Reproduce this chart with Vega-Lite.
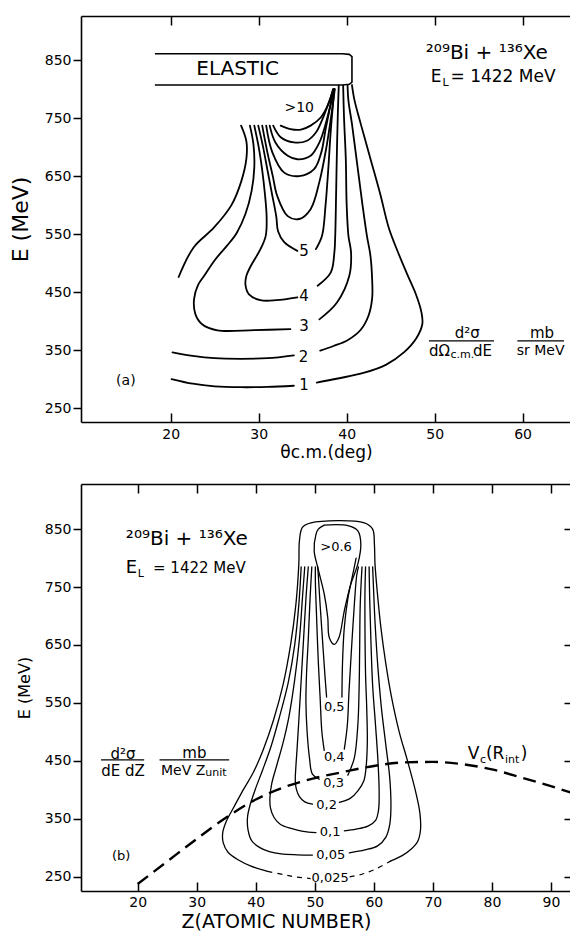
{
"$schema":"https://vega.github.io/schema/vega-lite/v6.json",
"padding":{"left":9,"top":15,"right":0,"bottom":0},
"bounds":"flush",
"spacing":62,
"config":{"view":{"stroke":null},"font":"DejaVu Sans","text":{"font":"DejaVu Sans","color":"black"},"axis":{"labelFont":"DejaVu Sans","titleFont":"DejaVu Sans","labelColor":"black","titleColor":"black","domainColor":"black","tickColor":"black","titleFontWeight":"normal","grid":false}},
"datasets":{
"aL":[
{"c":"1a","i":0,"x":20.1,"E":300},{"c":"1a","i":1,"x":22.5,"E":292},{"c":"1a","i":2,"x":25,"E":287.5},{"c":"1a","i":3,"x":28,"E":286},{"c":"1a","i":4,"x":31,"E":286.5},{"c":"1a","i":5,"x":34,"E":288.5},
{"c":"1b","i":0,"x":36.6,"E":294},{"c":"1b","i":1,"x":39,"E":301},{"c":"1b","i":2,"x":42,"E":311},{"c":"1b","i":3,"x":44.5,"E":325},{"c":"1b","i":4,"x":46.5,"E":346},{"c":"1b","i":5,"x":47.9,"E":370},{"c":"1b","i":6,"x":48.6,"E":395},{"c":"1b","i":7,"x":48.5,"E":415},{"c":"1b","i":8,"x":47.9,"E":445},{"c":"1b","i":9,"x":46.9,"E":480},{"c":"1b","i":10,"x":45.8,"E":520},{"c":"1b","i":11,"x":44.8,"E":560},{"c":"1b","i":12,"x":43.8,"E":620},{"c":"1b","i":13,"x":42.7,"E":680},{"c":"1b","i":14,"x":41.6,"E":740},{"c":"1b","i":15,"x":40.9,"E":780},{"c":"1b","i":16,"x":40.6,"E":807},
{"c":"2a","i":0,"x":20.2,"E":346},{"c":"2a","i":1,"x":22.5,"E":340},{"c":"2a","i":2,"x":25,"E":336},{"c":"2a","i":3,"x":28,"E":335},{"c":"2a","i":4,"x":31,"E":336},{"c":"2a","i":5,"x":34,"E":341},
{"c":"2b","i":0,"x":37,"E":349},{"c":"2b","i":1,"x":38.5,"E":357},{"c":"2b","i":2,"x":40.1,"E":367},{"c":"2b","i":3,"x":41.6,"E":385},{"c":"2b","i":4,"x":42.5,"E":410},{"c":"2b","i":5,"x":42.9,"E":440},{"c":"2b","i":6,"x":42.9,"E":470},{"c":"2b","i":7,"x":42.7,"E":513},{"c":"2b","i":8,"x":42.3,"E":547},{"c":"2b","i":9,"x":41.8,"E":600},{"c":"2b","i":10,"x":41.2,"E":670},{"c":"2b","i":11,"x":40.6,"E":740},{"c":"2b","i":12,"x":40.2,"E":780},{"c":"2b","i":13,"x":40.1,"E":807},
{"c":"3a","i":0,"x":33.6,"E":386},{"c":"3a","i":1,"x":29.5,"E":384.5},{"c":"3a","i":2,"x":25.3,"E":384},{"c":"3a","i":3,"x":23.6,"E":394},{"c":"3a","i":4,"x":22.8,"E":412},{"c":"3a","i":5,"x":22.65,"E":438},{"c":"3a","i":6,"x":23.1,"E":462},{"c":"3a","i":7,"x":23.8,"E":478},{"c":"3a","i":8,"x":25.0,"E":505},{"c":"3a","i":9,"x":26.4,"E":530},{"c":"3a","i":10,"x":27.5,"E":552},{"c":"3a","i":11,"x":28.5,"E":585},{"c":"3a","i":12,"x":29.2,"E":625},{"c":"3a","i":13,"x":29.5,"E":665},{"c":"3a","i":14,"x":29.4,"E":705},{"c":"3a","i":15,"x":29.0,"E":737},
{"c":"3b","i":0,"x":36.9,"E":403},{"c":"3b","i":1,"x":38.9,"E":432},{"c":"3b","i":2,"x":40.3,"E":478},{"c":"3b","i":3,"x":40.5,"E":518},{"c":"3b","i":4,"x":40.2,"E":547},{"c":"3b","i":5,"x":40.0,"E":600},{"c":"3b","i":6,"x":39.9,"E":680},{"c":"3b","i":7,"x":39.7,"E":750},{"c":"3b","i":8,"x":39.6,"E":806},
{"c":"4a","i":0,"x":34.4,"E":441},{"c":"4a","i":1,"x":32,"E":436},{"c":"4a","i":2,"x":30.2,"E":436},{"c":"4a","i":3,"x":28.9,"E":446},{"c":"4a","i":4,"x":28.5,"E":462},{"c":"4a","i":5,"x":28.6,"E":478},{"c":"4a","i":6,"x":29.1,"E":495},{"c":"4a","i":7,"x":30.2,"E":524},{"c":"4a","i":8,"x":30.8,"E":547},{"c":"4a","i":9,"x":30.9,"E":580},{"c":"4a","i":10,"x":30.7,"E":620},{"c":"4a","i":11,"x":30.4,"E":660},{"c":"4a","i":12,"x":30.0,"E":700},{"c":"4a","i":13,"x":29.5,"E":737},
{"c":"4b","i":0,"x":36.7,"E":461},{"c":"4b","i":1,"x":38.2,"E":484},{"c":"4b","i":2,"x":38.6,"E":518},{"c":"4b","i":3,"x":38.7,"E":547},{"c":"4b","i":4,"x":38.8,"E":620},{"c":"4b","i":5,"x":38.9,"E":700},{"c":"4b","i":6,"x":39.0,"E":760},{"c":"4b","i":7,"x":39.1,"E":806},
{"c":"5a","i":0,"x":34.4,"E":521},{"c":"5a","i":1,"x":32.9,"E":536},{"c":"5a","i":2,"x":32.2,"E":555},{"c":"5a","i":3,"x":32.0,"E":580},{"c":"5a","i":4,"x":31.5,"E":620},{"c":"5a","i":5,"x":31.0,"E":660},{"c":"5a","i":6,"x":30.5,"E":700},{"c":"5a","i":7,"x":29.95,"E":737},
{"c":"5b","i":0,"x":36.5,"E":524},{"c":"5b","i":1,"x":37.2,"E":547},{"c":"5b","i":2,"x":37.6,"E":600},{"c":"5b","i":3,"x":37.9,"E":660},{"c":"5b","i":4,"x":38.2,"E":730},{"c":"5b","i":5,"x":38.6,"E":800},
{"c":"U1","i":0,"x":30.4,"E":737},{"c":"U1","i":1,"x":31.0,"E":690},{"c":"U1","i":2,"x":31.6,"E":650},{"c":"U1","i":3,"x":32.1,"E":616},{"c":"U1","i":4,"x":33.3,"E":581},{"c":"U1","i":5,"x":34.6,"E":576},{"c":"U1","i":6,"x":35.9,"E":593},{"c":"U1","i":7,"x":36.9,"E":640},{"c":"U1","i":8,"x":37.7,"E":700},{"c":"U1","i":9,"x":38.3,"E":760},{"c":"U1","i":10,"x":38.65,"E":800},
{"c":"U2","i":0,"x":30.85,"E":737},{"c":"U2","i":1,"x":31.55,"E":691},{"c":"U2","i":2,"x":32.9,"E":656},{"c":"U2","i":3,"x":34.6,"E":650},{"c":"U2","i":4,"x":36.3,"E":662},{"c":"U2","i":5,"x":37.1,"E":690},{"c":"U2","i":6,"x":37.6,"E":730},{"c":"U2","i":7,"x":38.2,"E":775},{"c":"U2","i":8,"x":38.6,"E":800},
{"c":"U3","i":0,"x":31.25,"E":737},{"c":"U3","i":1,"x":31.9,"E":708},{"c":"U3","i":2,"x":33.3,"E":685},{"c":"U3","i":3,"x":34.4,"E":679},{"c":"U3","i":4,"x":35.9,"E":685},{"c":"U3","i":5,"x":36.9,"E":708},{"c":"U3","i":6,"x":37.7,"E":745},{"c":"U3","i":7,"x":38.55,"E":800},
{"c":"U4","i":0,"x":31.65,"E":737},{"c":"U4","i":1,"x":32.5,"E":717},{"c":"U4","i":2,"x":34.0,"E":708},{"c":"U4","i":3,"x":35.5,"E":711},{"c":"U4","i":4,"x":36.5,"E":725},{"c":"U4","i":5,"x":37.3,"E":750},{"c":"U4","i":6,"x":38.5,"E":800},
{"c":"U5","i":0,"x":32.5,"E":737},{"c":"U5","i":1,"x":33.6,"E":731},{"c":"U5","i":2,"x":34.8,"E":730},{"c":"U5","i":3,"x":35.9,"E":737},{"c":"U5","i":4,"x":37.05,"E":751},{"c":"U5","i":5,"x":38.0,"E":777},{"c":"U5","i":6,"x":38.45,"E":800},
{"c":"L1","i":0,"x":20.9,"E":476},{"c":"L1","i":1,"x":22.6,"E":527},{"c":"L1","i":2,"x":24.9,"E":561},{"c":"L1","i":3,"x":26.9,"E":600},{"c":"L1","i":4,"x":28.0,"E":640},{"c":"L1","i":5,"x":28.6,"E":680},{"c":"L1","i":6,"x":28.6,"E":710},{"c":"L1","i":7,"x":28.0,"E":737}
],
"aBox":[
{"i":0,"x":18.2,"E":861},{"i":1,"x":39.5,"E":861},{"i":2,"x":40.3,"E":859.8},{"i":3,"x":40.6,"E":856},{"i":4,"x":40.6,"E":812},{"i":5,"x":40.3,"E":808.2},{"i":6,"x":39.5,"E":807},{"i":7,"x":18.2,"E":807}
],
"aR":[{"x":49.35,"x2":56.75,"E":366},{"x":59.4,"x2":64.7,"E":366}],
"aTc15":[{"x":35.15,"E":289,"t":"1"},{"x":35.1,"E":338,"t":"2"},{"x":35.15,"E":392,"t":"3"},{"x":35.15,"E":444,"t":"4"},{"x":35.15,"E":521,"t":"5"},{"x":53.7,"E":380,"t":"d²σ"},{"x":62.2,"E":380,"t":"mb"}],
"aTc14":[{"x":34.6,"E":768,"t":">10"},{"x":14.9,"E":297,"t":"(a)"},{"x":62.05,"E":349,"t":"sr MeV"}],
"aTc20":[{"x":27.6,"E":834,"t":"ELASTIC"}],
"aTl20":[{"x":49.0,"E":863,"t":"²⁰⁹Bi + ¹³⁶Xe"}],
"aTl17":[{"x":49.55,"E":820,"t":"E"},{"x":51.8,"E":820,"t":"= 1422 MeV"}],
"aTl15":[{"x":49.35,"E":349,"t":"dΩ"},{"x":54.35,"E":349,"t":"dE"}],
"aTl11":[{"x":50.9,"E":811,"t":"L"},{"x":51.8,"E":342,"t":"c.m."}],
"bL":[
{"c":"o","i":0,"x":42,"E":259},{"c":"o","i":1,"x":39.2,"E":268},{"c":"o","i":2,"x":37,"E":279},{"c":"o","i":3,"x":35.3,"E":292},{"c":"o","i":4,"x":34.5,"E":308},{"c":"o","i":5,"x":34.4,"E":325},{"c":"o","i":6,"x":35.0,"E":345},{"c":"o","i":7,"x":36.3,"E":370},{"c":"o","i":8,"x":37.9,"E":400},{"c":"o","i":9,"x":39.6,"E":430},{"c":"o","i":10,"x":41.3,"E":470},{"c":"o","i":11,"x":43.0,"E":520},{"c":"o","i":12,"x":44.6,"E":580},{"c":"o","i":13,"x":45.9,"E":650},{"c":"o","i":14,"x":46.8,"E":720},{"c":"o","i":15,"x":47.3,"E":790},{"c":"o","i":16,"x":47.4,"E":830},{"c":"o","i":17,"x":47.9,"E":853},{"c":"o","i":18,"x":49.35,"E":861},{"c":"o","i":19,"x":58.4,"E":861},{"c":"o","i":20,"x":59.8,"E":850},{"c":"o","i":21,"x":60.1,"E":824},{"c":"o","i":22,"x":60.2,"E":790},{"c":"o","i":23,"x":60.6,"E":740},{"c":"o","i":24,"x":61.2,"E":680},{"c":"o","i":25,"x":62.0,"E":620},{"c":"o","i":26,"x":63.0,"E":560},{"c":"o","i":27,"x":64.3,"E":500},{"c":"o","i":28,"x":65.7,"E":450},{"c":"o","i":29,"x":67.0,"E":400},{"c":"o","i":30,"x":67.8,"E":360},{"c":"o","i":31,"x":67.9,"E":330},{"c":"o","i":32,"x":67.4,"E":310},{"c":"o","i":33,"x":66.3,"E":297},{"c":"o","i":34,"x":64.8,"E":286},{"c":"o","i":35,"x":62.9,"E":277},
{"c":"05a","i":0,"x":49.6,"E":287},{"c":"05a","i":1,"x":47,"E":287.5},{"c":"05a","i":2,"x":44.3,"E":289},{"c":"05a","i":3,"x":42.3,"E":293},{"c":"05a","i":4,"x":40.7,"E":300},{"c":"05a","i":5,"x":39.3,"E":312},{"c":"05a","i":6,"x":38.7,"E":330},{"c":"05a","i":7,"x":38.6,"E":352},{"c":"05a","i":8,"x":39.0,"E":372},{"c":"05a","i":9,"x":39.9,"E":400},{"c":"05a","i":10,"x":41.2,"E":435},{"c":"05a","i":11,"x":42.6,"E":475},{"c":"05a","i":12,"x":44.0,"E":525},{"c":"05a","i":13,"x":45.5,"E":585},{"c":"05a","i":14,"x":46.6,"E":650},{"c":"05a","i":15,"x":47.3,"E":720},{"c":"05a","i":16,"x":47.7,"E":785},
{"c":"05b","i":0,"x":55.85,"E":291},{"c":"05b","i":1,"x":58.5,"E":296},{"c":"05b","i":2,"x":60.65,"E":303},{"c":"05b","i":3,"x":62.05,"E":318},{"c":"05b","i":4,"x":62.7,"E":340},{"c":"05b","i":5,"x":62.9,"E":370},{"c":"05b","i":6,"x":62.7,"E":420},{"c":"05b","i":7,"x":62.0,"E":480},{"c":"05b","i":8,"x":61.3,"E":540},{"c":"05b","i":9,"x":60.7,"E":610},{"c":"05b","i":10,"x":60.2,"E":690},{"c":"05b","i":11,"x":59.9,"E":760},{"c":"05b","i":12,"x":59.8,"E":785},
{"c":"1a","i":0,"x":50.2,"E":326},{"c":"1a","i":1,"x":48,"E":328},{"c":"1a","i":2,"x":46.0,"E":333},{"c":"1a","i":3,"x":44.2,"E":340},{"c":"1a","i":4,"x":43.1,"E":352},{"c":"1a","i":5,"x":42.5,"E":368},{"c":"1a","i":6,"x":42.4,"E":386},{"c":"1a","i":7,"x":42.7,"E":410},{"c":"1a","i":8,"x":43.5,"E":440},{"c":"1a","i":9,"x":44.6,"E":480},{"c":"1a","i":10,"x":45.6,"E":525},{"c":"1a","i":11,"x":46.6,"E":590},{"c":"1a","i":12,"x":47.4,"E":660},{"c":"1a","i":13,"x":47.9,"E":730},{"c":"1a","i":14,"x":48.3,"E":785},
{"c":"1b","i":0,"x":55.0,"E":329},{"c":"1b","i":1,"x":57,"E":332},{"c":"1b","i":2,"x":59.0,"E":337},{"c":"1b","i":3,"x":60.3,"E":347},{"c":"1b","i":4,"x":60.8,"E":365},{"c":"1b","i":5,"x":60.9,"E":398},{"c":"1b","i":6,"x":60.7,"E":450},{"c":"1b","i":7,"x":60.3,"E":510},{"c":"1b","i":8,"x":59.8,"E":580},{"c":"1b","i":9,"x":59.5,"E":660},{"c":"1b","i":10,"x":59.3,"E":730},{"c":"1b","i":11,"x":59.2,"E":785},
{"c":"2a","i":0,"x":49.6,"E":375},{"c":"2a","i":1,"x":48.3,"E":379},{"c":"2a","i":2,"x":47.4,"E":388},{"c":"2a","i":3,"x":46.9,"E":400},{"c":"2a","i":4,"x":46.7,"E":415},{"c":"2a","i":5,"x":46.8,"E":440},{"c":"2a","i":6,"x":47.0,"E":470},{"c":"2a","i":7,"x":47.3,"E":520},{"c":"2a","i":8,"x":47.7,"E":590},{"c":"2a","i":9,"x":48.1,"E":660},{"c":"2a","i":10,"x":48.5,"E":730},{"c":"2a","i":11,"x":48.9,"E":785},
{"c":"2b","i":0,"x":54.15,"E":378},{"c":"2b","i":1,"x":56,"E":385},{"c":"2b","i":2,"x":57.3,"E":398},{"c":"2b","i":3,"x":58.3,"E":415},{"c":"2b","i":4,"x":58.7,"E":440},{"c":"2b","i":5,"x":58.9,"E":484},{"c":"2b","i":6,"x":58.8,"E":540},{"c":"2b","i":7,"x":58.6,"E":600},{"c":"2b","i":8,"x":58.5,"E":680},{"c":"2b","i":9,"x":58.5,"E":740},{"c":"2b","i":10,"x":58.6,"E":785},
{"c":"3a","i":0,"x":50.75,"E":418},{"c":"3a","i":1,"x":49.6,"E":427},{"c":"3a","i":2,"x":49.1,"E":455},{"c":"3a","i":3,"x":48.7,"E":500},{"c":"3a","i":4,"x":48.5,"E":550},{"c":"3a","i":5,"x":48.6,"E":600},{"c":"3a","i":6,"x":48.9,"E":660},{"c":"3a","i":7,"x":49.2,"E":730},{"c":"3a","i":8,"x":49.5,"E":785},
{"c":"3b","i":0,"x":55.6,"E":425},{"c":"3b","i":1,"x":56.7,"E":455},{"c":"3b","i":2,"x":57.3,"E":513},{"c":"3b","i":3,"x":57.5,"E":571},{"c":"3b","i":4,"x":57.6,"E":640},{"c":"3b","i":5,"x":57.7,"E":720},{"c":"3b","i":6,"x":58.0,"E":785},
{"c":"4a","i":0,"x":51.6,"E":468},{"c":"4a","i":1,"x":51.2,"E":500},{"c":"4a","i":2,"x":50.9,"E":560},{"c":"4a","i":3,"x":50.6,"E":620},{"c":"4a","i":4,"x":50.3,"E":700},{"c":"4a","i":5,"x":50.1,"E":760},{"c":"4a","i":6,"x":50.1,"E":785},
{"c":"4b","i":0,"x":55.0,"E":470},{"c":"4b","i":1,"x":55.5,"E":510},{"c":"4b","i":2,"x":55.8,"E":570},{"c":"4b","i":3,"x":56.2,"E":640},{"c":"4b","i":4,"x":56.7,"E":720},{"c":"4b","i":5,"x":57.1,"E":770},{"c":"4b","i":6,"x":57.4,"E":785},
{"c":"5a","i":0,"x":52.0,"E":560},{"c":"5a","i":1,"x":51.7,"E":600},{"c":"5a","i":2,"x":51.3,"E":660},{"c":"5a","i":3,"x":50.9,"E":720},{"c":"5a","i":4,"x":50.6,"E":770},{"c":"5a","i":5,"x":50.5,"E":785},
{"c":"5b","i":0,"x":54.6,"E":560},{"c":"5b","i":1,"x":54.7,"E":620},{"c":"5b","i":2,"x":55.0,"E":680},{"c":"5b","i":3,"x":55.6,"E":730},{"c":"5b","i":4,"x":56.4,"E":770},{"c":"5b","i":5,"x":57.0,"E":800},
{"c":"6","i":0,"x":51.6,"E":857},{"c":"6","i":1,"x":55.6,"E":856},{"c":"6","i":2,"x":57.3,"E":847},{"c":"6","i":3,"x":57.8,"E":824},{"c":"6","i":4,"x":57.3,"E":790},{"c":"6","i":5,"x":56.1,"E":755},{"c":"6","i":6,"x":55.0,"E":709},{"c":"6","i":7,"x":54.1,"E":663},{"c":"6","i":8,"x":53.3,"E":651},{"c":"6","i":9,"x":52.45,"E":663},{"c":"6","i":10,"x":52.2,"E":697},{"c":"6","i":11,"x":51.6,"E":738},{"c":"6","i":12,"x":50.5,"E":784},{"c":"6","i":13,"x":49.9,"E":812},{"c":"6","i":14,"x":50.2,"E":841},{"c":"6","i":15,"x":50.6,"E":850},{"c":"6","i":16,"x":51.6,"E":857}
],
"bD":[
{"c":"d1","i":0,"x":42,"E":259},{"c":"d1","i":1,"x":44.8,"E":253},{"c":"d1","i":2,"x":47,"E":249},{"c":"d1","i":3,"x":49.3,"E":246.5},
{"c":"d2","i":0,"x":55.9,"E":249.5},{"c":"d2","i":1,"x":58,"E":254},{"c":"d2","i":2,"x":60.1,"E":262},{"c":"d2","i":3,"x":62.9,"E":277}
],
"bV":[{"x":20,"E":237},{"x":25,"E":276},{"x":30,"E":315},{"x":35,"E":352},{"x":40,"E":383},{"x":45,"E":405},{"x":50,"E":420},{"x":55,"E":431},{"x":60,"E":441},{"x":65,"E":447},{"x":70,"E":448},{"x":75,"E":444},{"x":80,"E":435},{"x":85,"E":421},{"x":90,"E":406},{"x":93.4,"E":395}],
"bR":[{"x":13.8,"x2":21.1,"E":451.6},{"x":23.7,"x2":35.5,"E":451.6}],
"bTc13":[{"x":53.6,"E":819,"t":">0.6"},{"x":53.3,"E":542,"t":"0,5"},{"x":53.3,"E":456,"t":"0,4"},{"x":53.2,"E":412,"t":"0,3"},{"x":52.0,"E":374,"t":"0,2"},{"x":52.6,"E":327,"t":"0,1"},{"x":52.7,"E":288,"t":"0,05"},{"x":52.6,"E":247,"t":"0,025"},{"x":17.2,"E":285,"t":"(b)"}],
"bTc15":[{"x":17.5,"E":462.5,"t":"d²σ"},{"x":29.6,"E":463.5,"t":"mb"},{"x":17.5,"E":432.6,"t":"dE dZ"}],
"bTl14":[{"x":23.95,"E":432.6,"t":"MeV Z"}],
"bTl11":[{"x":20.0,"E":773,"t":"L"},{"x":31.45,"E":429,"t":"unit"},{"x":78.0,"E":452,"t":"c"},{"x":82.2,"E":452,"t":"int"}],
"bTl20":[{"x":18.0,"E":832.7,"t":"²⁰⁹Bi + ¹³⁶Xe"}],
"bTl18":[{"x":18.0,"E":783.7,"t":"E"}],
"bTl15":[{"x":22.6,"E":783.7,"t":"= 1422 MeV"}],
"bTl17":[{"x":75.9,"E":461,"t":"V"},{"x":79.0,"E":461,"t":"(R"},{"x":84.9,"E":461,"t":")"}]
},
"vconcat":[
{
"width":490,"height":406,
"encoding":{
"x":{"field":"x","type":"quantitative","scale":{"domain":[9.8,65.5],"nice":false,"zero":false},"axis":null},
"y":{"field":"E","type":"quantitative","scale":{"domain":[226,926],"nice":false,"zero":false},"axis":null}
},
"layer":[
{"data":{"name":"aL"},"mark":{"type":"line","interpolate":"catmull-rom","color":"black","strokeWidth":1.8,"strokeCap":"round","strokeJoin":"round"},
"encoding":{
"x":{"field":"x","type":"quantitative","scale":{"domain":[9.8,65.5],"nice":false,"zero":false},"axis":{"orient":"bottom","values":[20,30,40,50,60],"tickSize":-9,"tickWidth":1.5,"labelPadding":14,"labelFontSize":14,"domainWidth":1.6,"title":"θc.m.(deg)","titleFontSize":17,"titlePadding":3}},
"y":{"field":"E","type":"quantitative","scale":{"domain":[226,926],"nice":false,"zero":false},"axis":{"orient":"left","values":[250,350,450,550,650,750,850],"tickSize":8,"tickWidth":1.5,"labelPadding":2,"labelFontSize":14,"domainWidth":1.6,"title":"E (MeV)","titleFontSize":22,"titlePadding":12}},
"detail":{"field":"c"},"order":{"field":"i","type":"quantitative"}}},
{"data":{"name":"aBox"},"mark":{"type":"line","color":"black","strokeWidth":1.6},"encoding":{"order":{"field":"i","type":"quantitative"}}},
{"data":{"name":"aR"},"mark":{"type":"rule","color":"black","strokeWidth":1.3},"encoding":{"x2":{"field":"x2"}}},
{"data":{"name":"aTc15"},"mark":{"type":"text","fontSize":15,"align":"center","baseline":"middle"},"encoding":{"text":{"field":"t"}}},
{"data":{"name":"aTc14"},"mark":{"type":"text","fontSize":14,"align":"center","baseline":"middle"},"encoding":{"text":{"field":"t"},
"x":{"field":"x","type":"quantitative","scale":{"domain":[9.8,65.5],"nice":false,"zero":false},"axis":{"orient":"top","values":[20,30,40,50,60],"tickSize":-9,"tickWidth":1.5,"labels":false,"domainWidth":1.6,"title":null}}}},
{"data":{"name":"aTc20"},"mark":{"type":"text","fontSize":20,"align":"center","baseline":"middle"},"encoding":{"text":{"field":"t"}}},
{"data":{"name":"aTl20"},"mark":{"type":"text","fontSize":20,"align":"left","baseline":"middle"},"encoding":{"text":{"field":"t"}}},
{"data":{"name":"aTl17"},"mark":{"type":"text","fontSize":17,"align":"left","baseline":"middle"},"encoding":{"text":{"field":"t"}}},
{"data":{"name":"aTl15"},"mark":{"type":"text","fontSize":15,"align":"left","baseline":"middle"},"encoding":{"text":{"field":"t"}}},
{"data":{"name":"aTl11"},"mark":{"type":"text","fontSize":11,"align":"left","baseline":"middle"},"encoding":{"text":{"field":"t"}}}
],
"resolve":{"axis":{"x":"independent","y":"independent"}}
},
{
"width":490,"height":407,
"encoding":{
"x":{"field":"x","type":"quantitative","scale":{"domain":[10.4,93.4],"nice":false,"zero":false},"axis":null},
"y":{"field":"E","type":"quantitative","scale":{"domain":[225,928],"nice":false,"zero":false},"axis":null}
},
"layer":[
{"data":{"name":"bL"},"mark":{"type":"line","interpolate":"catmull-rom","color":"black","strokeWidth":1.3,"strokeCap":"round","strokeJoin":"round"},
"encoding":{
"x":{"field":"x","type":"quantitative","scale":{"domain":[10.4,93.4],"nice":false,"zero":false},"axis":{"orient":"bottom","values":[20,30,40,50,60,70,80,90],"tickSize":-9,"tickWidth":1.5,"labelPadding":13,"labelFontSize":14,"domainWidth":1.6,"title":"Z(ATOMIC NUMBER)","titleFontSize":19,"titlePadding":3,"titleX":195}},
"y":{"field":"E","type":"quantitative","scale":{"domain":[225,928],"nice":false,"zero":false},"axis":{"orient":"left","values":[250,350,450,550,650,750,850],"tickSize":8,"tickWidth":1.5,"labelPadding":2,"labelFontSize":14,"domainWidth":1.6,"title":"E (MeV)","titleFontSize":16,"titlePadding":12}},
"detail":{"field":"c"},"order":{"field":"i","type":"quantitative"}}},
{"data":{"name":"bD"},"mark":{"type":"line","interpolate":"catmull-rom","color":"black","strokeWidth":1.2,"strokeDash":[5,5]},"encoding":{"detail":{"field":"c"},"order":{"field":"i","type":"quantitative"}}},
{"data":{"name":"bV"},"mark":{"type":"line","interpolate":"monotone","color":"black","strokeWidth":2.4,"strokeDash":[13,7]},"encoding":{}},
{"data":{"name":"bR"},"mark":{"type":"rule","color":"black","strokeWidth":1.3},"encoding":{"x2":{"field":"x2"}}},
{"data":{"name":"bTc13"},"mark":{"type":"text","fontSize":13,"align":"center","baseline":"middle"},"encoding":{"text":{"field":"t"},
"x":{"field":"x","type":"quantitative","scale":{"domain":[10.4,93.4],"nice":false,"zero":false},"axis":{"orient":"top","values":[20,30,40,50,60,70,80,90],"tickSize":-9,"tickWidth":1.5,"labels":false,"domainWidth":1.6,"title":null}},
"y":{"field":"E","type":"quantitative","scale":{"domain":[225,928],"nice":false,"zero":false},"axis":{"orient":"right","values":[250,350,450,550,650,750,850],"tickSize":-7,"tickWidth":1.5,"labels":false,"domain":false,"title":null}}}},
{"data":{"name":"bTc15"},"mark":{"type":"text","fontSize":15,"align":"center","baseline":"middle"},"encoding":{"text":{"field":"t"}}},
{"data":{"name":"bTl14"},"mark":{"type":"text","fontSize":14,"align":"left","baseline":"middle"},"encoding":{"text":{"field":"t"}}},
{"data":{"name":"bTl11"},"mark":{"type":"text","fontSize":11,"align":"left","baseline":"middle"},"encoding":{"text":{"field":"t"}}},
{"data":{"name":"bTl20"},"mark":{"type":"text","fontSize":20,"align":"left","baseline":"middle"},"encoding":{"text":{"field":"t"}}},
{"data":{"name":"bTl18"},"mark":{"type":"text","fontSize":18,"align":"left","baseline":"middle"},"encoding":{"text":{"field":"t"}}},
{"data":{"name":"bTl15"},"mark":{"type":"text","fontSize":15,"align":"left","baseline":"middle"},"encoding":{"text":{"field":"t"}}},
{"data":{"name":"bTl17"},"mark":{"type":"text","fontSize":17,"align":"left","baseline":"middle"},"encoding":{"text":{"field":"t"}}}
],
"resolve":{"axis":{"x":"independent","y":"independent"}}
}
]
}
